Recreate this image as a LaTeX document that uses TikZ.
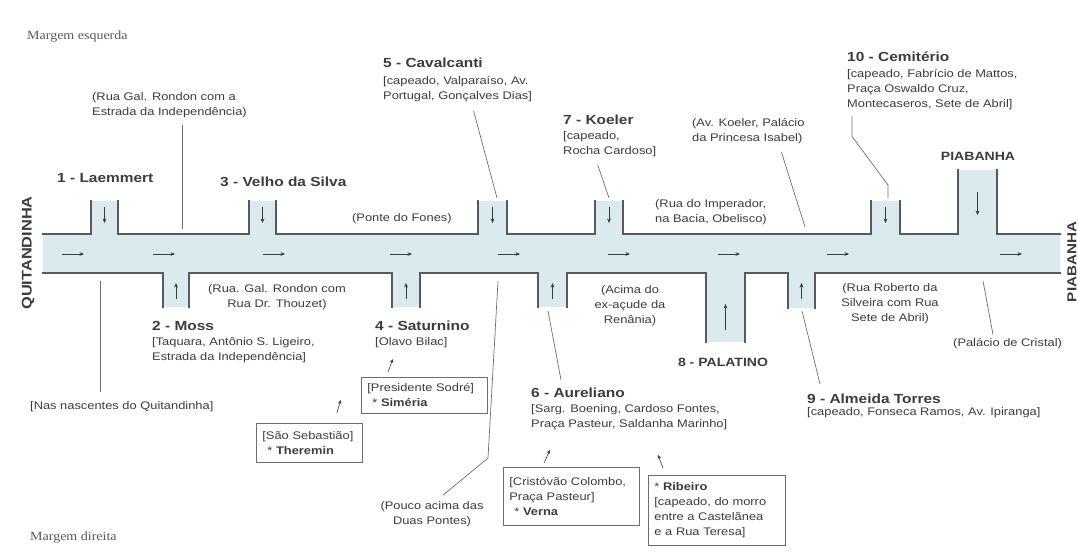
\documentclass[tikz,border=0pt]{standalone}
\usepackage{fontspec}
\setmainfont[FakeStretch=1.17]{Liberation Sans}
\newfontfamily\marginfont[FakeStretch=1.12]{Liberation Serif}
\usepackage{tikz}
\usetikzlibrary{arrows.meta}

\definecolor{riverblue}{RGB}{218,234,238}
\definecolor{bankgray}{RGB}{88,90,92}
\definecolor{txtgray}{RGB}{60,60,60}
\definecolor{leadgray}{RGB}{110,110,110}

\tikzset{
  water/.style={fill=riverblue},
  bank/.style={draw=bankgray, line width=1.7pt, line cap=rect},
  flow/.style={draw=txtgray, line width=0.6pt, -{Stealth[length=4.5pt,width=3.8pt]}},
  feed/.style={draw=txtgray, line width=0.6pt, -{Stealth[length=4pt,width=3.6pt]}},
  lead/.style={draw=leadgray, line width=0.7pt},
  trib/.style={font=\fontsize{13.2}{15}\selectfont\bfseries, text=txtgray, inner sep=0pt, anchor=west},
  capname/.style={font=\fontsize{12}{14}\selectfont\bfseries, text=txtgray, inner sep=0pt},
  note/.style={font=\fontsize{11}{15}\selectfont, text=txtgray, inner sep=0pt, align=left, anchor=west},
  cnote/.style={note, align=center, anchor=center},
  spring/.style={note, draw=leadgray, line width=0.8pt, inner xsep=6pt, inner ysep=4pt, anchor=north west},
  bankname/.style={font=\marginfont\fontsize{12.5}{15}\selectfont, text=txtgray!85, inner sep=0pt, anchor=west}
}

\begin{document}
\begin{tikzpicture}[x=1pt,y=-1pt]
\useasboundingbox (0,0) rectangle (1078,552);
\def \bankN {234}
\def \bankS {273}

\fill[water] (43,\bankN) rectangle (1060,\bankS);
\draw[bank] (43,\bankN) -- (1060,\bankN);
\draw[bank] (43,\bankS) -- (1060,\bankS);
\foreach \a/\b/\e/\m in {91/118/201/\bankN, 249/276/201/\bankN, 478/507/201/\bankN,
    595/623/201/\bankN, 871/900/201/\bankN, 958/997/170/\bankN,
    163/189/307/\bankS, 392/420/307/\bankS, 538/567/307/\bankS,
    706/745/342/\bankS, 788/815/308/\bankS}
  {\fill[water] (\a,\e) rectangle (\b,253);
   \draw[bank] (\a,\e) -- (\a,\m);
   \draw[bank] (\b,\e) -- (\b,\m);}

\foreach \x in {62,153,263,390,498,608,718,827,1000}
  \draw[flow] (\x,254) -- ++(22,0);
\foreach \x/\p/\q in {104.5/207/223, 262.5/207/223, 492.5/207/223, 609/207/223,
    885.5/207/223, 977.5/192/215, 176/299/283, 406/299/283, 552.5/299/283,
    725.5/330/304, 801.5/299/283}
  \draw[flow] (\x,\p) -- (\x,\q);

\node[bankname] (esq) at (27,37) {Margem esquerda};
\node[bankname] (dir) at (30,538) {Margem direita};
\node[capname, font=\fontsize{14}{16}\selectfont\bfseries, rotate=90] (quit) at (28,253) {QUITANDINHA};
\node[capname, font=\fontsize{13}{16}\selectfont\bfseries, rotate=90] (piabR) at (1072,262) {PIABANHA};
\node[capname] (piabT) at (978,156) {PIABANHA};

\node[trib] (laem) at (57,178) {1 - Laemmert};
\node[trib] (velho) at (220,182) {3 - Velho da Silva};
\node[trib] (cav) at (383,63) {5 - Cavalcanti};
\node[note] (cavinfo) at (383,89) {[capeado, Valpara\'iso, Av.\\Portugal, Gon\c{c}alves Dias]};
\node[trib] (koe) at (563,120) {7 - Koeler};
\node[note] (koeinfo) at (563,144) {[capeado,\\Rocha Cardoso]};
\node[trib] (cem) at (847,57) {10 - Cemit\'erio};
\node[note] (ceminfo) at (847,90) {[capeado, Fabr\'icio de Mattos,\\Pra\c{c}a Oswaldo Cruz,\\Montecaseros, Sete de Abril]};
\node[note] (gal) at (92,105) {(Rua Gal. Rondon com a\\Estrada da Independ\^encia)};
\node[note] (avk) at (692,131) {(Av. Koeler, Pal\'acio\\da Princesa Isabel)};
\node[note] (fones) at (352,219) {(Ponte do Fones)};
\node[note] (imper) at (655,212) {(Rua do Imperador,\\na Bacia, Obelisco)};

\node[cnote] (thouzet) at (277,297) {(Rua. Gal. Rondon com\\Rua Dr. Thouzet)};
\node[cnote] (renania) at (630,306) {(Acima do\\ex-a\c{c}ude da\\Ren\^ania)};
\node[cnote] (roberto) at (890,304) {(Rua Roberto da\\Silveira com Rua\\Sete de Abril)};
\node[trib] (moss) at (152,326) {2 - Moss};
\node[note] (mossinfo) at (152,350) {[Taquara, Ant\^onio S. Ligeiro,\\Estrada da Independ\^encia]};
\node[trib] (satur) at (375,326) {4 - Saturnino};
\node[note] (saturinfo) at (375,343) {[Olavo Bilac]};
\node[capname] (pala) at (723,362) {8 - PALATINO};
\node[trib] (alm) at (807,399) {9 - Almeida Torres};
\node[note] (alminfo) at (807,413) {[capeado, Fonseca Ramos, Av. Ipiranga]};
\node[note] (cristal) at (953,344) {(Pal\'acio de Cristal)};
\node[note] (nasc) at (30,407) {[Nas nascentes do Quitandinha]};
\node[trib] (aur) at (531,393) {6 - Aureliano};
\node[note] (aurinfo) at (531,417) {[Sarg. Boening, Cardoso Fontes,\\Pra\c{c}a Pasteur, Saldanha Marinho]};
\node[cnote] (pouco) at (432,514) {(Pouco acima das\\Duas Pontes)};

\node[spring, text width=94pt, minimum height=39pt] (ther) at (256,423)
  {[S\~ao Sebasti\~ao]\\\hspace*{5pt}* \textbf{Theremin}};
\node[spring, text width=114pt, minimum height=36pt] (sim) at (361,377)
  {[Presidente Sodr\'e]\\\hspace*{5pt}* \textbf{Sim\'eria}};
\node[spring, text width=124pt, minimum height=58pt] (verna) at (503,467)
  {[Crist\'ov\~ao Colombo,\\Pra\c{c}a Pasteur]\\\hspace*{5pt}* \textbf{Verna}};
\node[spring, text width=125pt, minimum height=70pt] (rib) at (648,475)
  {* \textbf{Ribeiro}\\{}[capeado, do morro\\entre a Castel\~anea\\e a Rua Teresa]};

\coordinate (n1) at (182,229);
\coordinate (n5) at (497,198);
\coordinate (n7) at (609,198);
\coordinate (nk) at (805,227);
\coordinate (c10) at (888,185);
\coordinate (n10) at (888,198);
\coordinate (s1) at (100,281);
\coordinate (s4) at (498,281);
\coordinate (p4) at (488,458);
\coordinate (s6) at (548,311);
\coordinate (s9) at (802,311);
\coordinate (s11) at (983,281);

\draw[lead] (n1 |- gal.south) ++(0,7) -- (n1);
\draw[lead] ([xshift=16pt]cavinfo.south) ++(0,9) -- (n5);
\draw[lead] ([xshift=-12pt]koeinfo.south) ++(0,8) -- (n7);
\draw[lead] ([xshift=33pt]avk.south) ++(0,8) -- (nk);
\draw[lead] ([xshift=5pt]ceminfo.south west) ++(0,6) -- ++(0,20) -- (c10) -- (n10);
\draw[lead] (s1 |- nasc.north) ++(0,-10) -- (s1);
\draw[lead] ([xshift=11pt]pouco.north) ++(0,-6) -- (p4) -- (s4);
\draw[lead] ([xshift=30pt]aur.north west) ++(0,-8) -- (s6);
\draw[lead] ([xshift=13pt]alm.north west) ++(0,-10) -- (s9);
\draw[lead] ([xshift=40pt]cristal.north west) ++(0,-4) -- (s11);

\draw[feed] ([shift={(-26pt,10pt)}]ther.north east) -- ++(4,-13);
\draw[feed] ([shift={(27pt,5pt)}]sim.north west) -- ++(5,-13);
\draw[feed] ([shift={(41pt,4pt)}]verna.north west) -- ++(6,-13);
\draw[feed] ([shift={(15pt,7pt)}]rib.north west) -- ++(-5,-13);
\end{tikzpicture}
\end{document}
